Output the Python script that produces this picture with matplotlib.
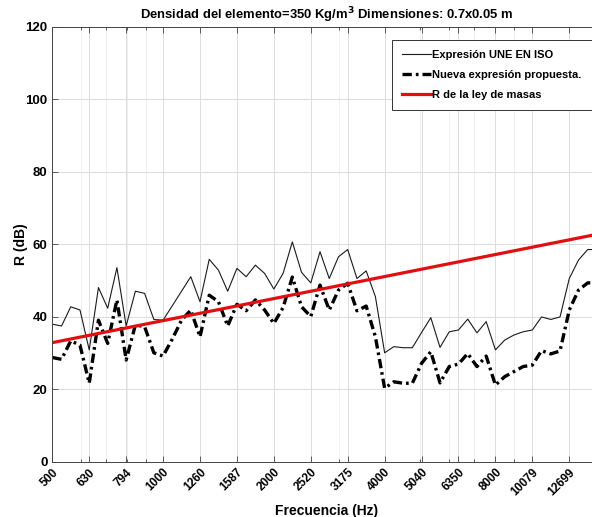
import numpy as np
import matplotlib
matplotlib.use("Agg")
import matplotlib.pyplot as plt
from matplotlib.ticker import FixedLocator, NullFormatter

plt.rcParams['font.family'] = ['Liberation Sans', 'DejaVu Sans']
plt.rcParams['font.weight'] = 'bold'
plt.rcParams['axes.titleweight'] = 'bold'
plt.rcParams['axes.labelweight'] = 'bold'

# 1/12-octave frequency grid starting at 500 Hz (60 bands)
f = 500 * 2 ** (np.arange(60) / 12)

R_une = [37.9, 37.4, 42.7, 41.8, 30.8, 48.0, 42.3, 53.5, 37.4, 47.0,
         46.4, 39.2, 39.0, 43.0, 47.0, 51.0, 44.1, 55.8, 52.8, 47.0,
         53.3, 51.0, 54.2, 51.9, 47.6, 51.9, 60.6, 52.2, 49.3, 57.9,
         50.5, 56.5, 58.5, 50.5, 52.6, 45.5, 30.0, 31.7, 31.4, 31.4,
         35.6, 39.7, 31.5, 35.8, 36.3, 39.3, 35.5, 38.6, 30.8, 33.5,
         34.9, 35.8, 36.3, 39.9, 39.2, 39.9, 50.5, 55.6, 58.5, 58.5]

R_new = [28.7, 28.2, 33.3, 32.1, 21.6, 39.0, 32.6, 44.6, 28.0, 37.7,
         37.2, 30.0, 29.1, 33.8, 39.0, 41.8, 34.4, 45.9, 44.1, 37.4,
         43.4, 41.6, 44.6, 41.8, 38.1, 42.5, 50.9, 42.7, 40.0, 48.7,
         41.8, 47.3, 49.2, 41.6, 42.9, 34.4, 20.2, 22.0, 21.6, 21.6,
         27.1, 30.3, 21.7, 26.2, 26.9, 29.8, 26.2, 29.1, 21.1, 23.4,
         24.8, 26.2, 26.6, 30.6, 29.7, 30.5, 41.8, 47.3, 49.3, 49.3]

# mass law line end points (first / last band)
f_mass = [f[0], f[-1]]
R_mass = [32.8, 62.7]

tick_freqs = [500, 630, 794, 1000, 1260, 1587, 2000, 2520, 3175, 4000,
              5040, 6350, 8000, 10079, 12699]
minor_freqs = [600, 700, 800, 900, 2000, 3000, 4000, 5000, 6000, 7000,
               8000, 9000]

fig = plt.figure(figsize=(5.92, 5.17), dpi=100)
ax = fig.add_axes([52.3 / 592, 1 - 461.5 / 517, 547.7 / 592, 434.8 / 517])

ax.plot(f, R_une, color='#1a1a1a', lw=0.8, label='Expresión UNE EN ISO')
ax.plot(f, R_new, color='black', lw=2.4, ls=(0, (2.8, 1.2, 0.8, 1.2)),
        label='Nueva expresión propuesta.')
ax.plot(f_mass, R_mass, color='#e01010', lw=2.3, label='R de la ley de masas')

ax.set_xscale('log')
ax.set_xlim(500, 500 * 10 ** (547.7 / 368))
ax.set_ylim(0, 120)
ax.xaxis.set_major_locator(FixedLocator(tick_freqs))
ax.set_xticklabels([str(v) for v in tick_freqs], rotation=45,
                   ha='right', va='top', rotation_mode='anchor', fontsize=8.5)
ax.xaxis.set_minor_locator(FixedLocator(minor_freqs))
ax.xaxis.set_minor_formatter(NullFormatter())
ax.set_yticks([0, 20, 40, 60, 80, 100, 120])
ax.tick_params(axis='y', labelsize=9.5)

ax.tick_params(which='both', direction='in', top=True, right=False,
               color='#444444', width=0.6)
ax.tick_params(which='major', length=4)
ax.tick_params(which='minor', length=2)

ax.grid(True, which='major', color='#dcdcdc', lw=0.7)
ax.grid(True, which='minor', axis='x', color='#ececec', lw=0.6)
ax.set_axisbelow(True)
for s in ['left', 'bottom', 'top']:
    ax.spines[s].set_color('#444444')
    ax.spines[s].set_linewidth(0.7)
ax.spines['right'].set_visible(False)

ax.set_xlabel('Frecuencia (Hz)', fontsize=10, labelpad=4)
ax.set_ylabel('R (dB)', fontsize=10, labelpad=-2)
ax.set_title('Densidad del elemento=350 Kg/m$^\\mathbf{3}$ Dimensiones: 0.7x0.05 m',
             fontsize=9.4, pad=5)

leg = ax.legend(loc='upper right', bbox_to_anchor=(591.5 / 592, 1 - 40 / 517),
                bbox_transform=fig.transFigure, borderaxespad=0,
                fancybox=False, framealpha=1, edgecolor='#333333',
                fontsize=8, handlelength=2.6, handletextpad=0.1,
                borderpad=0.9, labelspacing=0.9)
leg.get_frame().set_linewidth(0.7)

fig.savefig('out.png', dpi=100)
